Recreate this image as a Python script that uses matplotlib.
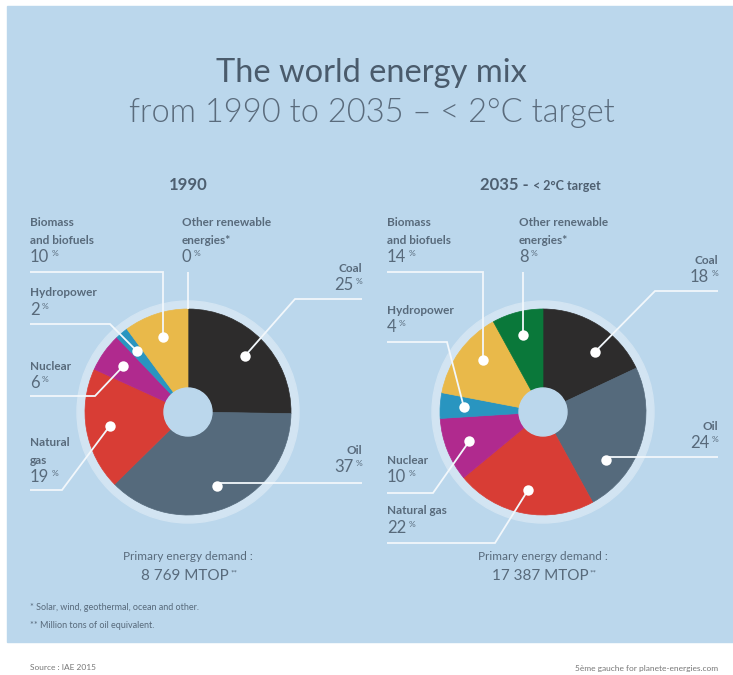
import numpy as np
import matplotlib.pyplot as plt
from matplotlib.patches import Circle, Rectangle

plt.rcParams['font.family'] = ['Lato', 'DejaVu Sans']

# =============================================================================
# DATA
# =============================================================================
sources = ['Coal', 'Oil', 'Natural gas', 'Nuclear', 'Hydropower',
           'Biomass and biofuels', 'Other renewable energies']
share_1990 = [25, 37, 19, 6, 2, 10, 0]
share_2035 = [18, 24, 22, 10, 4, 14, 8]
demand_1990 = '8 769'
demand_2035 = '17 387'
slice_colors = ['#2d2c2c', '#556a7c', '#d83d35', '#b02a8e', '#2995c0', '#e9b94a', '#0a783a']

# label names as printed on each pie
names_1990 = ['Coal', 'Oil', 'Natural\ngas', 'Nuclear', 'Hydropower',
              'Biomass\nand biofuels', 'Other renewable\nenergies*']
names_2035 = ['Coal', 'Oil', 'Natural gas', 'Nuclear', 'Hydropower',
              'Biomass\nand biofuels', 'Other renewable\nenergies*']

# =============================================================================
# LAYOUT (pixel coords, y down)
# ha, text x, number y, leader y, leader start x, bend x, dot position in slice
# =============================================================================
layout_1990 = [
    ('right', 362, 285, 299, 362, 295, 0.5),
    ('right', 362, 467, 483, 362, None, 0.5),
    ('left', 30, 477, 490, 30, 62, 0.5),
    ('left', 30, 383, 396, 30, 95, 0.5),
    ('left', 30, 310, 324, 30, 110, 0.5),
    ('left', 30, 257, 272, 30, None, 0.5),
    ('left', 182, 257, 272, None, None, 0.5),
]
layout_2035 = [
    ('right', 718, 277, 291, 718, 655, 0.63),
    ('right', 718, 443, 457, 718, None, 0.72),
    ('left', 387, 528, 543, 387, 495, 0.5),
    ('left', 387, 477, 493, 387, 433, 0.5),
    ('left', 387, 327, 342, 387, 447, 0.5),
    ('left', 387, 257, 272, 387, None, 0.6),
    ('left', 519, 257, 272, None, None, 0.5),
]

BG = '#bbd7ec'
HALO = '#d2e4f2'
TXT = '#586a7b'
LINE = '#f2f7fb'
R = 103

fig = plt.figure(figsize=(7.33, 6.75), dpi=100)
ax = fig.add_axes([0, 0, 1, 1])
ax.add_patch(Rectangle((7, 6), 726, 636, color=BG, zorder=0))


def pct(x, y, value, ha, size=12, small=6):
    # number with a small raised "%"
    if ha == 'left':
        t = ax.text(x, y, str(value), fontsize=size, color=TXT, ha='left', va='center', zorder=6)
        ax.annotate('%', xy=(1, 0.5), xycoords=t, xytext=(1.5, 2.5), textcoords='offset points',
                    fontsize=small, color=TXT, ha='left', va='center', zorder=6)
    else:
        p = ax.text(x, y - 3.5, '%', fontsize=small, color=TXT, ha='right', va='center', zorder=6)
        ax.annotate(str(value), xy=(0, 0.5), xycoords=p, xytext=(-1.5, -2.5), textcoords='offset points',
                    fontsize=size, color=TXT, ha='right', va='center', zorder=6)


def draw_pie(cx, cy, shares, names, layout, demand):
    ax.add_patch(Circle((cx, cy), R + 8, color=HALO, zorder=1))
    wedges, _ = ax.pie(shares, colors=slice_colors, startangle=-90, counterclock=True,
                       radius=R, center=(cx, cy))
    for w, v in zip(wedges, shares):
        w.set_edgecolor(w.get_facecolor())
        w.set_linewidth(0.5)
        w.set_zorder(2)
        if v == 0:
            w.set_visible(False)
    ax.add_patch(Circle((cx, cy), 24, color=BG, zorder=3))

    total = sum(shares)
    cum = 0
    for v, name, (ha, tx, ny, ly, x0, bend, frac) in zip(shares, names, layout):
        theta = np.deg2rad(-90 + 360 * (cum + frac * v) / total)
        cum += v
        rr = R if v == 0 else R * 0.77
        dx, dy = cx + rr * np.cos(theta), cy + rr * np.sin(theta)
        sx = dx if x0 is None else x0
        bx = dx if bend is None else bend
        ax.plot([sx, bx, dx], [ly, ly, dy], color=LINE, lw=1.3, zorder=4,
                solid_capstyle='butt', solid_joinstyle='miter')
        if v > 0:
            ax.plot(dx, dy, 'o', ms=7.5, color='white', mec='none', zorder=5)
        lines = name.split('\n')
        for i, ln in enumerate(lines):
            ax.text(tx, ny - 17 * (len(lines) - i), ln, fontsize=8.5, fontweight='bold',
                    color=TXT, ha=ha, va='center', zorder=6)
        pct(tx, ny, v, ha)

    ax.text(cx, 556, 'Primary energy demand :', fontsize=8.5, color=TXT, ha='center', va='center')
    t = ax.text(cx - 3, 576, f'{demand} MTOP', fontsize=11, color=TXT, ha='center', va='center')
    ax.annotate('**', xy=(1, 0.5), xycoords=t, xytext=(1, 2), textcoords='offset points',
                fontsize=6, color=TXT, ha='left', va='center')


draw_pie(188, 412, share_1990, names_1990, layout_1990, demand_1990)
draw_pie(543, 412, share_2035, names_2035, layout_2035, demand_2035)

# titles
ax.text(371, 73, 'The world energy mix', fontsize=23.5, color='#4a5b6c', ha='center', va='center')
ax.text(372, 113, 'from 1990 to 2035 \u2013 < 2\u00b0C target', fontsize=23.5, fontweight=300,
        color='#5a6b7c', ha='center', va='center')
ax.text(188, 185, '1990', fontsize=12, fontweight='bold', color='#4e5f70', ha='center', va='center')
t = ax.text(480, 185, '2035 -', fontsize=12, fontweight='bold', color='#4e5f70', ha='left', va='center')
ax.annotate('< 2\u00b0C target', xy=(1, 0.5), xycoords=t, xytext=(3, -1), textcoords='offset points',
            fontsize=9, fontweight='bold', color='#4e5f70', ha='left', va='center')

# footnotes
ax.text(30, 607, '* Solar, wind, geothermal, ocean and other.', fontsize=6.5, color=TXT, va='center')
ax.text(30, 625, '** Million tons of oil equivalent.', fontsize=6.5, color=TXT, va='center')
ax.text(30, 668, 'Source : IAE 2015', fontsize=6, color='#777777', va='center')
ax.text(718, 668, '5\u00e8me gauche for planete-energies.com', fontsize=6, color='#777777',
        ha='right', va='center')

ax.set_xlim(0, 733)
ax.set_ylim(675, 0)
ax.set_aspect('auto')
ax.axis('off')
fig.savefig('out.png', dpi=100, facecolor='white')
